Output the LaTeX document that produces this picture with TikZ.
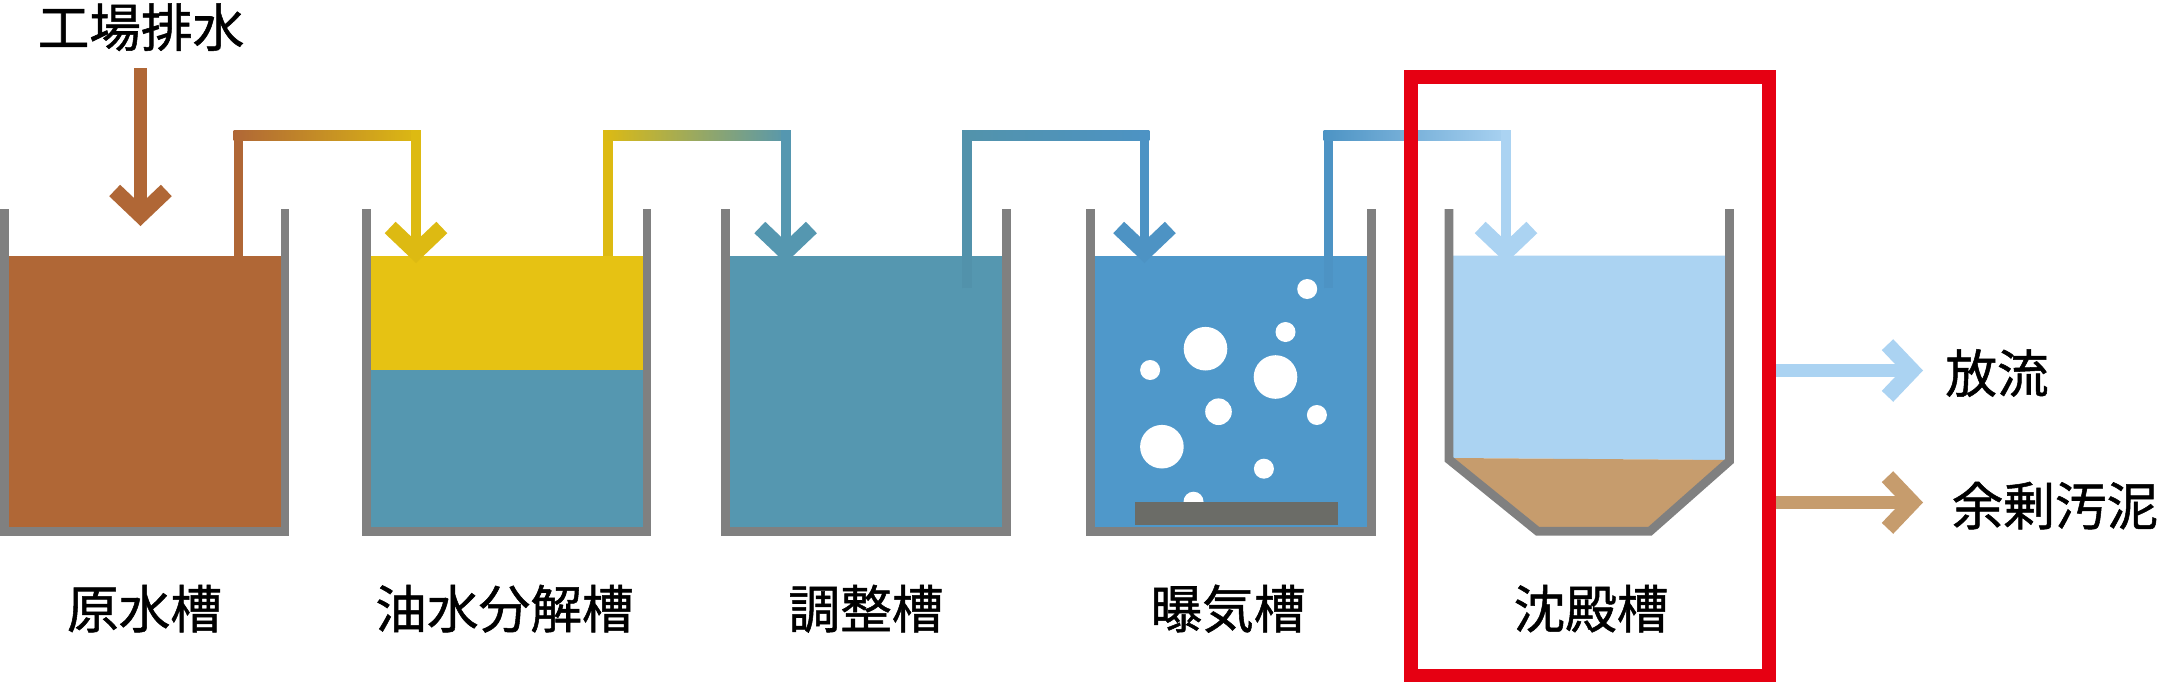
\documentclass[tikz,border=0pt]{standalone}
\usepackage{fontspec}
\usetikzlibrary{arrows.meta}
\newfontfamily\jpfont[FakeBold=1]{Noto Sans CJK JP}
\definecolor{rawc}{HTML}{B06736}
\definecolor{oilc}{HTML}{E6C213}
\definecolor{tealc}{HTML}{5597B0}
\definecolor{airc}{HTML}{4F98CA}
\definecolor{clearc}{HTML}{ABD3F2}
\definecolor{sludgec}{HTML}{C69C6D}
\definecolor{wallc}{HTML}{808080}
\definecolor{platec}{HTML}{6B6C67}
\definecolor{framec}{HTML}{E60012}
\tikzset{
    wall/.style={draw=wallc,line width=5pt,miter limit=10},
    pipe/.style={line width=5.6pt},
    flow/.style={line width=7.6pt},
    barb/.style={-{Straight Barb[length=14pt,width=29.4pt,line width=9pt]}},
    label/.style={font=\jpfont\fontsize{29.4}{30}\selectfont,inner sep=0pt,
        text height=25.9pt,text depth=3.5pt}
}
\begin{document}
\begin{tikzpicture}[x=0.02cm,y=-0.02cm]
    \useasboundingbox (0,0) rectangle (2159,683);
    % Water
    \fill[rawc] (4,255.7) rectangle (285,531);
    \fill[oilc] (366,255.7) rectangle (647,369.7);
    \fill[tealc] (366,369.7) rectangle (647,531);
    \fill[tealc] (726,255.7) rectangle (1006,531);
    \fill[airc] (1090,255.7) rectangle (1372,531);
    \fill[clearc] (1450,255.7) -- (1729,255.7) -- (1729,460) -- (1450,458) -- cycle;
    \fill[sludgec] (1450,458) -- (1729,460) -- (1650,531) -- (1537,531) -- cycle;
    % Bubbles
    \foreach \x/\y/\r in {1307.2/289/10,1285.5/332/10,1205.5/348.7/21.8,1150.1/370/10,
        1275.5/377/21.8,1218.5/411.7/13.3,1316.9/415/10,1161.9/446.7/21.8,
        1263.9/468.7/10,1193.5/501.7/10}
        \fill[white] (\x,\y) circle[radius=\r];
    \fill[platec] (1135,501.7) rectangle (1337.5,525);
    % Pipes
    \coordinate (drain) at (140.5,68);
    \coordinate (rawin) at (140.5,226);
    \coordinate (rawout) at (238.5,288);
    \coordinate (oilin) at (416,263);
    \coordinate (oilout) at (608,256);
    \coordinate (eqin) at (785.6,263);
    \coordinate (eqout) at (967,288);
    \coordinate (airin) at (1144.5,263);
    \coordinate (airout) at (1328.5,288);
    \coordinate (setin) at (1506,263);
    \draw[flow,rawc,barb] (drain) -- (rawin);
    \foreach \a/\b/\ca/\cb in {rawout/oilin/rawc/oilc!96!black,oilout/eqin/oilc!96!black/tealc,
        eqout/airin/tealc!97!black/airc!97!black,airout/setin/airc!97!black/clearc}{
        \draw[pipe,\ca] (\a) -- (\a |- 0,130);
        \shade[left color=\ca,right color=\cb] ([xshift=-2.8pt]\a |- 0,130) rectangle ([xshift=2.8pt]\b |- 0,140);
        \draw[pipe,\cb,barb] (\b |- 0,130) -- (\b);
    }
    % Tanks
    \foreach \l/\r in {4.5/285,366.5/647,725.7/1006.2,1090.5/1371.5}
        \draw[wall] (\l,209) -- (\l,531.2) -- (\r,531.2) -- (\r,209);
    \draw[wall] (1449,209) -- (1449,459.5) -- (1537.5,531.2) -- (1650,531.2) -- (1729.5,461) -- (1729.5,209);
    % Frame
    \draw[framec,line width=7.9pt] (1411,77) rectangle (1769,675.5);
    % Outlets
    \coordinate (setout) at (1776,370.5);
    \coordinate (clearend) at (1923,370.5);
    \coordinate (sludgeout) at (1776,502.5);
    \coordinate (sludgeend) at (1923,502.5);
    \draw[flow,clearc,barb] (setout) -- (clearend);
    \draw[flow,sludgec,barb] (sludgeout) -- (sludgeend);
    % Labels
    \node[label] (influent) at (141,27) {工場排水};
    \node[label] (rawname) at (144.5,608.5) {原水槽};
    \node[label] (oilname) at (504.5,608.5) {油水分解槽};
    \node[label] (eqname) at (866,608.5) {調整槽};
    \node[label] (airname) at (1228,608.5) {曝気槽};
    \node[label] (setname) at (1591,608.5) {沈殿槽};
    \node[label] (clearname) at (1997,373) {放流};
    \node[label] (sludgename) at (2055,505.5) {余剰汚泥};
\end{tikzpicture}
\end{document}
